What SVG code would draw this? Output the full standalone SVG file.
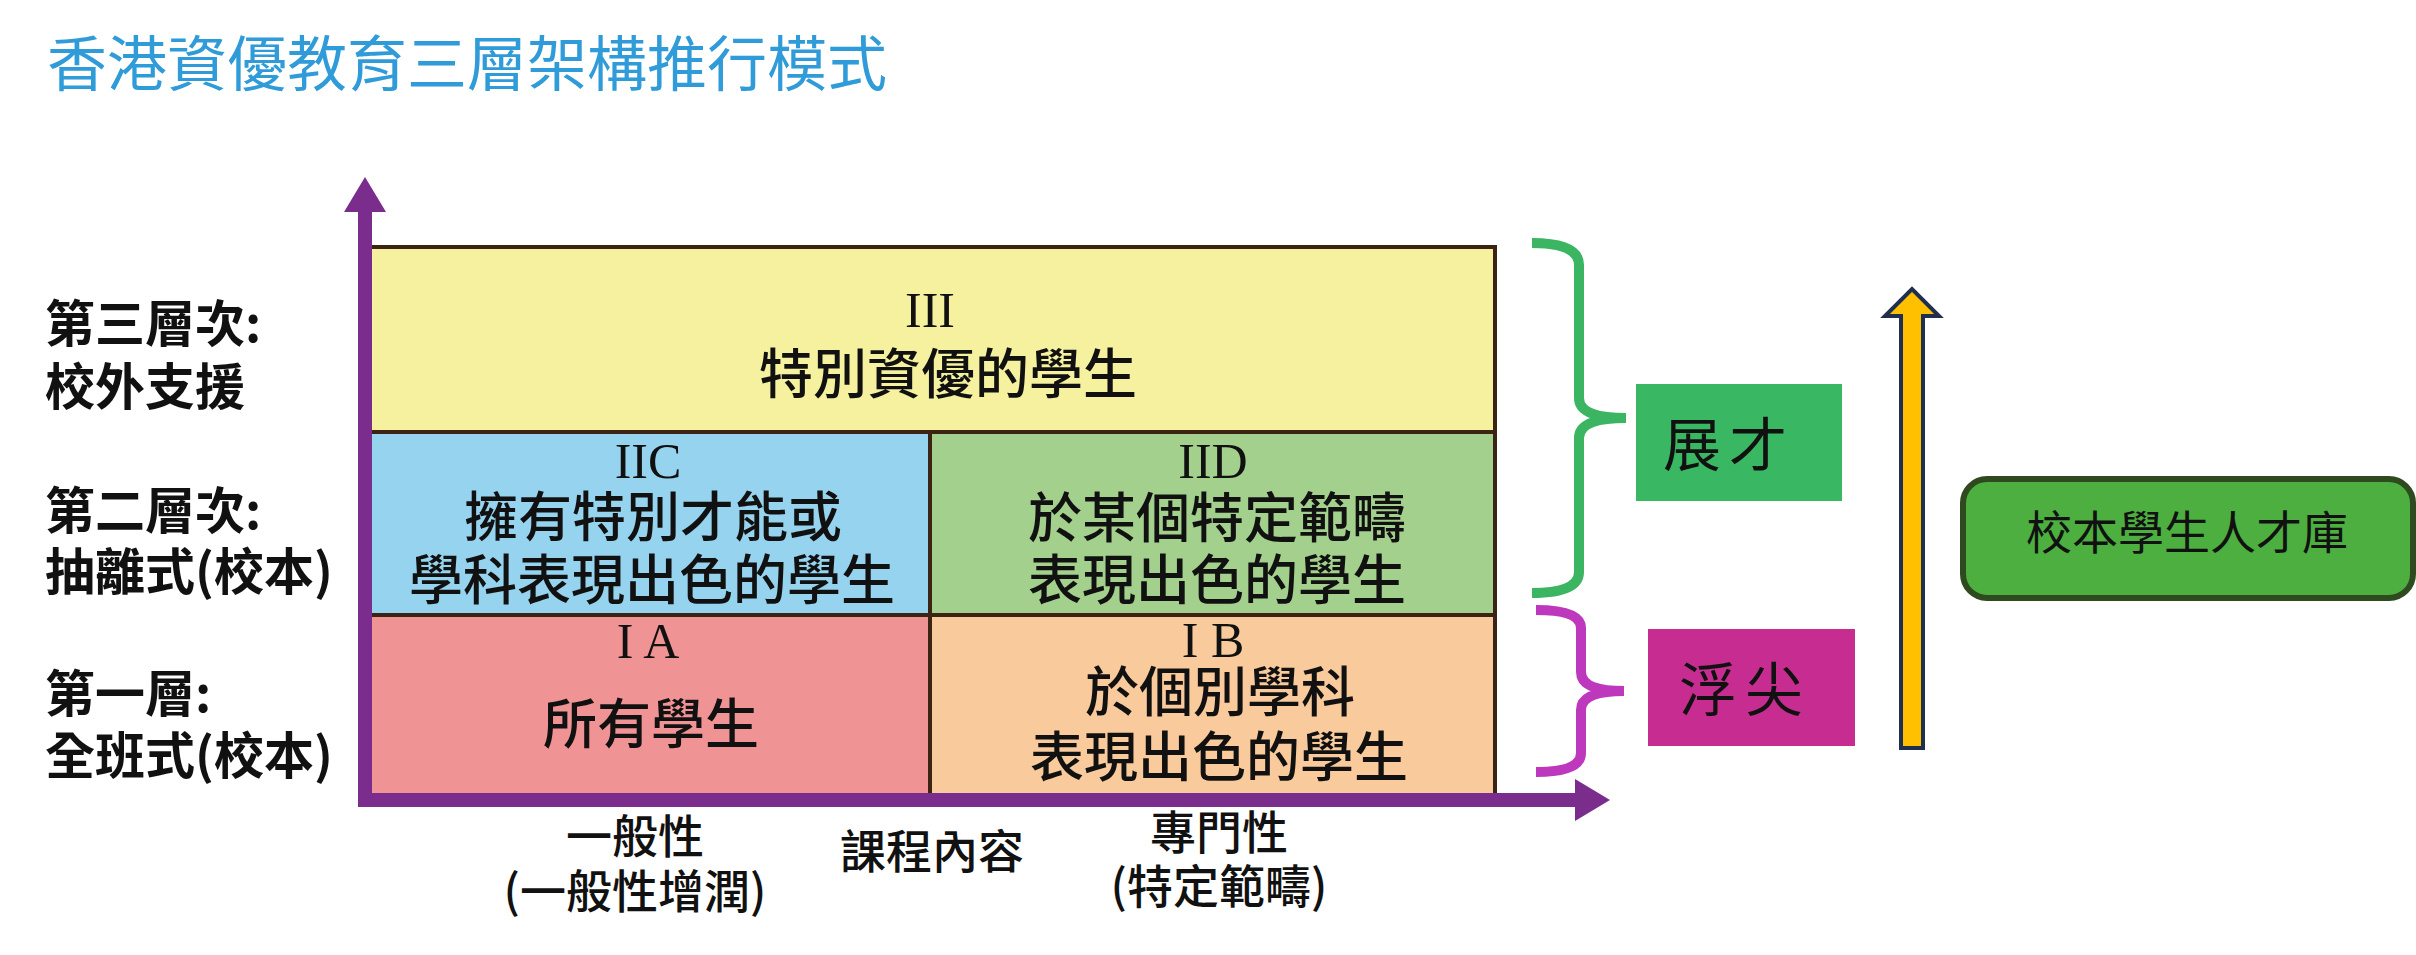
<svg xmlns="http://www.w3.org/2000/svg" width="2416" height="955" viewBox="0 0 2416 955">
<style>
.cjk{font-family:"Noto Sans CJK TC","Noto Sans CJK SC",sans-serif;fill:#111;}
.lbl{font-size:50px;font-weight:700;}
.box{font-size:54px;font-weight:500;text-anchor:middle;}
.ax{font-size:46px;font-weight:500;text-anchor:middle;}
.num{font-family:"Liberation Serif",serif;font-size:50px;fill:#111;text-anchor:middle;}
.cell{stroke:#3c2415;stroke-width:4;}
.axis{stroke:#7b2d8e;stroke-width:14;fill:none;}
.brace{fill:none;stroke-width:10;stroke-linecap:butt;}
</style>
<defs>
<marker id="axhead" markerUnits="userSpaceOnUse" markerWidth="36" markerHeight="42" refX="0" refY="21" orient="auto">
<path d="M0,0 L35,21 L0,42 Z" fill="#7b2d8e"/>
</marker>
</defs>
<rect width="2416" height="955" fill="#ffffff"/>
<g id="title">
<text x="47" y="86" font-family="Noto Sans CJK TC, Noto Sans CJK SC, sans-serif" font-size="60" font-weight="400" fill="#2f9bd8">香港資優教育三層架構推行模式</text>
</g>
<g id="cell-III">
<rect class="cell" x="365" y="247" width="1130" height="185" fill="#f6f19f"/>
<text class="num" x="930" y="327">III</text>
<text class="cjk box" x="948" y="394">特別資優的學生</text>
</g>
<g id="cell-IIC">
<rect class="cell" x="365" y="432" width="565" height="183" fill="#96d3ee"/>
<text class="num" x="648" y="478">IIC</text>
<text class="cjk box" x="653" y="537">擁有特別才能或</text>
<text class="cjk box" x="652" y="600">學科表現出色的學生</text>
</g>
<g id="cell-IID">
<rect class="cell" x="930" y="432" width="565" height="183" fill="#a3d08c"/>
<text class="num" x="1213" y="478">IID</text>
<text class="cjk box" x="1217" y="538">於某個特定範疇</text>
<text class="cjk box" x="1217" y="600">表現出色的學生</text>
</g>
<g id="cell-IA">
<rect class="cell" x="365" y="615" width="565" height="185" fill="#f09394"/>
<text class="num" x="648" y="658">I A</text>
<text class="cjk box" x="651" y="744">所有學生</text>
</g>
<g id="cell-IB">
<rect class="cell" x="930" y="615" width="565" height="185" fill="#f9ca9c"/>
<text class="num" x="1213" y="657">I B</text>
<text class="cjk box" x="1220" y="712">於個別學科</text>
<text class="cjk box" x="1219" y="777">表現出色的學生</text>
</g>
<g id="level-labels">
<text class="cjk lbl" x="45" y="342">第三層次:</text>
<text class="cjk lbl" x="45" y="405">校外支援</text>
<text class="cjk lbl" x="45" y="529">第二層次:</text>
<text class="cjk lbl" x="45" y="590">抽離式(校本)</text>
<text class="cjk lbl" x="45" y="712">第一層:</text>
<text class="cjk lbl" x="45" y="774">全班式(校本)</text>
</g>
<g id="axis-labels">
<text class="cjk ax" x="635" y="853">一般性</text>
<text class="cjk ax" x="635" y="908">(一般性增潤)</text>
<text class="cjk ax" x="932" y="868" font-size="50">課程內容</text>
<text class="cjk ax" x="1219" y="849">專門性</text>
<text class="cjk ax" x="1219" y="903">(特定範疇)</text>
</g>
<g id="connectors">
<line class="axis" x1="365" y1="807" x2="365" y2="212" marker-end="url(#axhead)"/>
<line class="axis" x1="358" y1="800" x2="1575" y2="800" marker-end="url(#axhead)"/>
<path class="brace" stroke="#3bb562" d="M1532,243 Q1579,243 1579,265 L1579,398 Q1579,418 1626,418 Q1579,418 1579,438 L1579,572 Q1579,593 1532,593"/>
<path class="brace" stroke="#be38be" d="M1536,610 Q1581,610 1581,628 L1581,672 Q1581,691 1624,691 Q1581,691 1581,710 L1581,753 Q1581,772 1536,772"/>
<polygon points="1901,748 1923,748 1923,316 1939,316 1912,289 1885,316 1901,316" fill="#ffc000" stroke="#1f2f4f" stroke-width="4" stroke-linejoin="miter"/>
</g>
<g id="node-zhancai">
<rect x="1636" y="384" width="206" height="117" fill="#3ab763"/>
<text class="cjk" x="1729" y="466" font-size="58" text-anchor="middle" letter-spacing="8">展才</text>
</g>
<g id="node-fujian">
<rect x="1648" y="629" width="207" height="117" fill="#c72c91"/>
<text class="cjk" x="1745" y="711" font-size="58" text-anchor="middle" letter-spacing="8">浮尖</text>
</g>
<g id="node-talentpool">
<rect x="1963" y="479" width="450" height="119" rx="24" ry="24" fill="#4caf3f" stroke="#2e4a1e" stroke-width="6"/>
<text class="cjk" x="2187" y="549" font-size="46" text-anchor="middle">校本學生人才庫</text>
</g>
</svg>
